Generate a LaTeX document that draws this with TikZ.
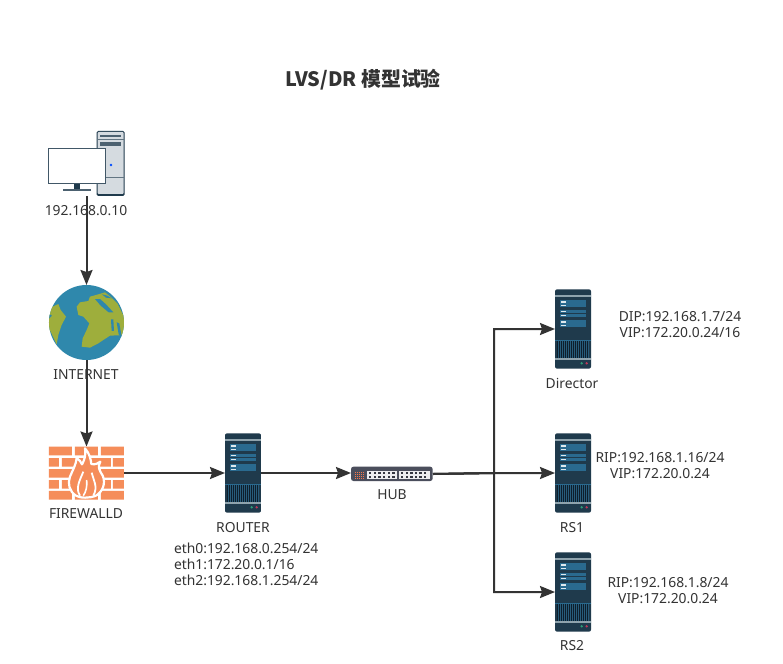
\documentclass[tikz,border=0pt]{standalone}
\usepackage{fontspec}
\setmainfont{Noto Sans}
\newfontfamily\cjkfont{Noto Sans CJK SC}
\usetikzlibrary{arrows.meta}
\definecolor{ink}{HTML}{333333}
\definecolor{srvdark}{HTML}{1F3A4C}
\definecolor{srvblue}{HTML}{2A6A8F}
\definecolor{srvband}{HTML}{8FA3AD}
\definecolor{srvgrill}{HTML}{0E1E2B}
\definecolor{brick}{HTML}{F58D5A}
\definecolor{globeblue}{HTML}{2F88AC}
\definecolor{globegreen}{HTML}{9EAE3C}
\definecolor{hubdark}{HTML}{4B4E5C}
\definecolor{towerfill}{HTML}{D5DBE0}
\definecolor{ledgreen}{HTML}{2E9E78}
\definecolor{ledred}{HTML}{C0395A}
\tikzset{
  iconbox/.style={inner sep=0pt,outer sep=0pt,draw=none,fill=none},
  lbl/.style={inner sep=0pt,outer sep=0pt,text=ink,font=\fontsize{13.85}{16}\selectfont,align=center},
  lblleft/.style={lbl,align=left,anchor=west},
  conn/.style={draw=ink,line width=2pt,-{Stealth[length=15pt,width=12pt,inset=2pt]}},
  zoomcoords/.style={x=0.3333pt,y=-0.3333pt},
  serverpic/.pic={
    \begin{scope}[zoomcoords]
      \fill[srvdark,rounded corners=2pt] (45,25) rectangle (153,263);
      \fill[srvband] (45,41) rectangle (153,47);
      \fill[srvband] (45,230) rectangle (153,236);
      \foreach \yy in {58,87,118}{
        \fill[srvblue] (60,\yy) rectangle (138,\yy+10);
        \fill[srvblue] (60,\yy+11) rectangle (138,\yy+21);
        \fill[white!85!srvblue] (62,\yy+3) rectangle (78,\yy+7);
        \fill[white!85!srvblue] (62,\yy+14) rectangle (78,\yy+18);
      }
      \draw[srvblue,line width=.5pt] (45,178) -- (153,178);
      \fill[srvgrill] (52,181) rectangle (145,230);
      \foreach \xx in {55,61,...,145}{
        \draw[srvblue!70!srvdark,line width=.7pt] (\xx,181) -- (\xx,230);
      }
      \fill[ledgreen] (125,247) circle (4);
      \fill[ledred] (140,247) circle (4);
    \end{scope}
  }
}
\begin{document}
\begin{tikzpicture}[x=1pt,y=-1pt]
\useasboundingbox (0,0) rectangle (783,663);
\fill[white] (0,0) rectangle (783,663);

% title
\node[inner sep=0pt,text=ink,font=\cjkfont\bfseries\fontsize{19.9}{24}\selectfont] (title) at (363,80) {LVS/DR 模型试验};

% ===== PC icon
\begin{scope}[shift={(30,120)},zoomcoords]
  \fill[srvdark,rounded corners=1.5pt] (200,33) rectangle (284,228);
  \fill[towerfill,rounded corners=1pt] (203,36) rectangle (281,222);
  \draw[srvdark!70!white,line width=.7pt] (203,57) -- (281,57);
  \draw[srvdark!70!white,line width=.7pt] (203,172) -- (281,172);
  \fill[srvdark!80!white] (211,46) rectangle (274,50);
  \fill[srvdark!80!white] (211,66) rectangle (274,77);
  \fill[blue!70!cyan] (243,135) circle (4);
  \fill[srvdark] (132,192) rectangle (150,208);
  \fill[srvdark!80!white] (100,208) rectangle (182,213);
  \draw[srvdark!85!white,line width=1pt,fill=white] (55,85) rectangle (227,192);
\end{scope}
\node[iconbox,minimum width=77pt,minimum height=65pt] (pc) at (86.5,163.5) {};

% ===== globe
\begin{scope}[shift={(30,275)},zoomcoords]
  \fill[globeblue] (169.5,142.5) circle (112.5);
  \begin{scope}
    \clip (169.5,142.5) circle (112.5);
    \fill[globegreen] (140,95) -- (150,82) -- (175,78) -- (180,65) -- (205,58) -- (225,52) -- (245,68) -- (262,85) -- (272,105) -- (290,140) -- (285,180) -- (240,182) -- (220,195) -- (205,205) -- (180,218) -- (155,215) -- (158,190) -- (170,165) -- (178,145) -- (160,125) -- (145,120) -- cycle;
    \fill[globeblue] (195,72) -- (210,72) -- (228,88) -- (250,112) -- (236,112) -- (212,92) -- cycle;
    \fill[globeblue] (216,58) -- (232,62) -- (245,70) -- (228,68) -- cycle;
    \fill[globeblue] (243,133) -- (250,133) -- (252,168) -- (245,168) -- cycle;
    \fill[globeblue] (260,142) -- (268,145) -- (275,185) -- (266,178) -- cycle;
    \fill[globegreen] (50,105) -- (68,95) -- (85,87) -- (92,105) -- (108,125) -- (95,150) -- (85,180) -- (80,208) -- (62,170) -- (50,150) -- cycle;
    \fill[globeblue] (50,112) -- (66,122) -- (58,130) -- (50,130) -- cycle;
  \end{scope}
\end{scope}
\node[iconbox,minimum width=75pt,minimum height=75pt] (net) at (86.5,322.5) {};

% ===== firewall
\begin{scope}[shift={(30,430)},zoomcoords]
  \fill[brick] (57,50) rectangle (126,76) (135,50) rectangle (204,76) (213,50) rectangle (282,76);
  \fill[brick] (57,84) rectangle (87,110) (96,84) rectangle (165,110) (174,84) rectangle (243,110) (249,84) rectangle (282,110);
  \fill[brick] (57,117) rectangle (126,143) (135,117) rectangle (204,143) (213,117) rectangle (282,143);
  \fill[brick] (57,150) rectangle (87,176) (96,150) rectangle (165,176) (174,150) rectangle (243,176) (249,150) rectangle (282,176);
  \fill[brick] (57,183) rectangle (126,209) (135,183) rectangle (204,209) (213,183) rectangle (282,209);
  \draw[white,line width=2.2pt,fill=brick,line join=round]
    (165,55) .. controls (178,70) and (182,85) .. (184,102)
    .. controls (195,105) and (205,100) .. (211,95)
    .. controls (202,112) and (208,120) .. (218,137)
    .. controls (228,160) and (218,185) .. (198,197)
    .. controls (180,205) and (150,205) .. (138,197)
    .. controls (118,185) and (112,160) .. (120,140)
    .. controls (128,120) and (138,105) .. (140,84)
    .. controls (148,90) and (153,95) .. (156,103)
    .. controls (165,88) and (168,72) .. (165,55) -- cycle;
  \draw[white,line width=1.8pt,line join=round]
    (150,197) .. controls (135,175) and (150,150) .. (160,125);
  \draw[white,line width=1.8pt,line join=round]
    (190,197) .. controls (205,170) and (190,150) .. (185,128);
  \draw[white,line width=1.6pt] (160,197) .. controls (168,185) and (172,170) .. (170,150);
\end{scope}
\node[iconbox,minimum width=75pt,minimum height=53pt] (fw) at (86.5,473) {};

% ===== servers
\pic at (210,425) {serverpic};
\node[iconbox,minimum width=36pt,minimum height=80pt] (router) at (243,473) {};
\pic at (540,281) {serverpic};
\node[iconbox,minimum width=36pt,minimum height=80pt] (director) at (573,329) {};
\pic at (540,425) {serverpic};
\node[iconbox,minimum width=36pt,minimum height=80pt] (rsone) at (573,473) {};
\pic at (540,544) {serverpic};
\node[iconbox,minimum width=36pt,minimum height=80pt] (rstwo) at (573,592) {};

% ===== hub
\begin{scope}[shift={(340,455)},zoomcoords]
  \fill[hubdark,rounded corners=2.5pt] (33,35) rectangle (278,78);
  \foreach \xx in {44,50,...,68}{\foreach \yy in {50,56,...,68}{
    \fill[brick!85!red] (\xx,\yy) rectangle ++(3.6,3.6);
  }}
  \fill[white!90!hubdark] (82,47) rectangle (172,72);
  \fill[white!90!hubdark] (178,47) rectangle (270,72);
  \foreach \xx in {90,104,118,132,146,160,186,200,214,228,242,256}{
    \fill[hubdark!70!black] (\xx-3.5,52) rectangle ++(7,6);
    \fill[hubdark!70!black] (\xx-3.5,62) rectangle ++(7,6);
  }
\end{scope}
\node[iconbox,minimum width=82pt,minimum height=14pt] (hub) at (392,474) {};
\coordinate (junction) at (494,473);

% ===== labels
\node[lbl] (lpc) at (86,211) {192.168.0.10};
\node[lbl] (lnet) at (86,375) {INTERNET};
\node[lbl] (lfw) at (86,514) {FIREWALLD};
\node[lbl] (lrouter) at (243,528) {ROUTER};
\node[lblleft] (leth) at (174,564.5) {eth0:192.168.0.254/24\\eth1:172.20.0.1/16\\eth2:192.168.1.254/24};
\node[lbl] (lhub) at (392,495) {HUB};
\node[lbl] (ldir) at (572,383) {Director};
\node[lbl] (lrs1) at (572,528) {RS1};
\node[lbl] (lrs2) at (572,646) {RS2};
\node[lbl] (idir) at (680,325) {DIP:192.168.1.7/24\\VIP:172.20.0.24/16};
\node[lbl] (irs1) at (660,466) {RIP:192.168.1.16/24\\VIP:172.20.0.24};
\node[lbl] (irs2) at (668,591) {RIP:192.168.1.8/24\\VIP:172.20.0.24};

% ===== connectors
\draw[conn] (pc.south) -- (net.north);
\draw[conn] (net.south) -- (fw.north);
\draw[conn] (fw.east) -- (router.west);
\draw[conn] (router.east) -- (hub.west |- router.east);
\draw[conn] (hub.east) -- (junction) -- (rsone.west);
\draw[conn] (hub.east) -- (junction) |- (director.west);
\draw[conn] (hub.east) -- (junction) |- (rstwo.west);
\end{tikzpicture}
\end{document}
